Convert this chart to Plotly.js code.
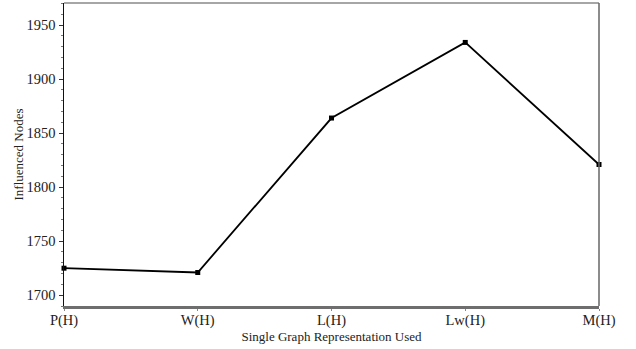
<!DOCTYPE html>
<html>
<head>
<meta charset="utf-8">
<script src="https://cdn.plot.ly/plotly-3.0.1.min.js"></script>
<style>html,body{margin:0;padding:0;background:#fff;}#chart{width:636px;height:349px;}</style>
</head>
<body>
<div id="chart"></div>
<script>
const categories = ["P(H)", "W(H)", "L(H)", "Lw(H)", "M(H)"];
const influencedNodes = [1725, 1721, 1864, 1934, 1821];
const yTickValues = [1700, 1750, 1800, 1850, 1900, 1950];

const tickFont = {family: "Liberation Serif, Times New Roman, serif", size: 14.5, color: "#222"};
const titleFont = {family: "Liberation Serif, Times New Roman, serif", size: 13, color: "#222"};

const trace = {
  x: categories.map((c, i) => i),
  y: influencedNodes,
  type: "scatter",
  mode: "lines+markers",
  line: {color: "#000", width: 1.8},
  marker: {symbol: "square", size: 5, color: "#000"},
  cliponaxis: false,
  hoverinfo: "skip"
};

const layout = {
  width: 636, height: 349,
  margin: {l: 64, r: 37, t: 3, b: 43},
  paper_bgcolor: "#fff", plot_bgcolor: "#fff",
  font: tickFont,
  showlegend: false,
  xaxis: {
    range: [0, categories.length - 1],
    tickvals: categories.map((c, i) => i),
    ticktext: categories,
    showgrid: false, zeroline: false,
    showline: true, linecolor: "#6e6e6e", linewidth: 3, mirror: false,
    ticks: "outside", ticklen: 2, tickcolor: "#888", tickwidth: 1,
    ticklabelstandoff: -3,
    tickfont: tickFont,
    title: {text: "Single Graph Representation Used", font: titleFont, standoff: 3}
  },
  yaxis: {
    range: [1690, 1970.5],
    tickvals: yTickValues,
    showgrid: false, zeroline: false,
    showline: true, linecolor: "#111", linewidth: 1.5,
    ticks: "outside", ticklen: 4, tickcolor: "#333", tickwidth: 1,
    minor: {dtick: 10, tick0: 1700, ticks: "outside", ticklen: 2, tickcolor: "#777", tickwidth: 1, showgrid: false},
    tickfont: tickFont,
    title: {text: "Influenced Nodes", font: titleFont, standoff: 0}
  },
  shapes: [
    {type: "line", xref: "paper", yref: "paper", x0: 0, x1: 1, y0: 1, y1: 1, line: {color: "#888", width: 1.5}},
    {type: "line", xref: "paper", yref: "paper", x0: 1, x1: 1, y0: 0, y1: 1, line: {color: "#666", width: 1.5}}
  ]
};

Plotly.newPlot("chart", [trace], layout, {staticPlot: true, displayModeBar: false});
</script>
</body>
</html>
